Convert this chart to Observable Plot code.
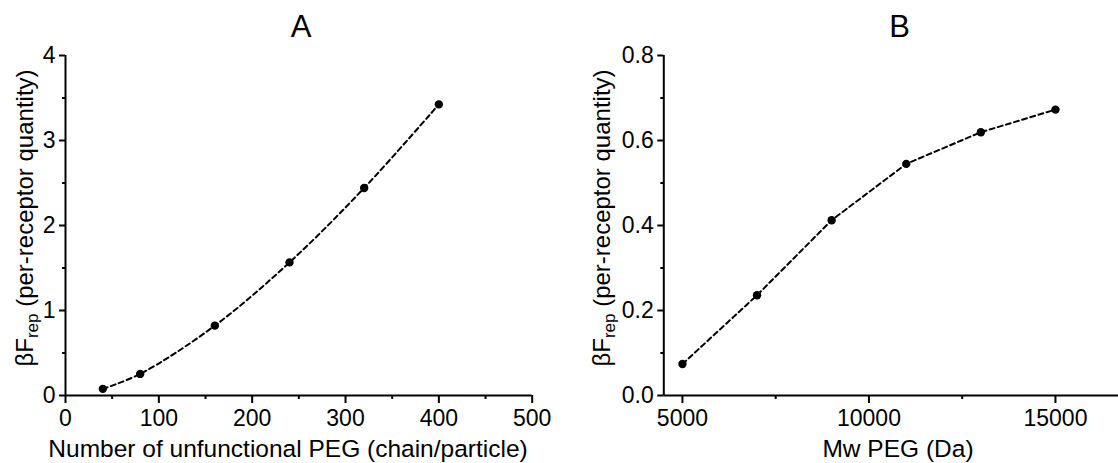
<!DOCTYPE html>
<html><head><meta charset="utf-8">
<script src="https://cdn.jsdelivr.net/npm/d3@7"></script>
<script src="https://cdn.jsdelivr.net/npm/@observablehq/plot@0.6"></script>
<style>
body{margin:0;background:#fff;}
#wrap{display:flex;width:1118px;height:463px;overflow:hidden;background:#fff;}
#wrap svg{display:block;flex:none;}
</style></head><body><div id="wrap"></div>
<script>
// Panel A
const pegCount = [40, 80, 160, 240, 320, 400];
const frepA = [0.078, 0.254, 0.822, 1.566, 2.442, 3.425];
const xTicksA = [0, 100, 200, 300, 400, 500];
const xMinorA = [50, 150, 250, 350, 450];
const yTicksA = [0, 1, 2, 3, 4];
const yMinorA = [0.5, 1.5, 2.5, 3.5];
// Panel B
const mwPEG = [5000, 7000, 9000, 11000, 13000, 15000];
const frepB = [0.074, 0.236, 0.4125, 0.545, 0.6195, 0.6727];
const xTicksB = [5000, 10000, 15000];
const xMinorB = [7500, 12500];
const yTicksB = [0, 0.2, 0.4, 0.6, 0.8];
const yMinorB = [0.1, 0.3, 0.5, 0.7];

const titles = ["A", "B"];
const xLabels = ["Number of unfunctional PEG (chain/particle)", "Mw PEG (Da)"];

const FONT = '"Liberation Sans", Arial, Helvetica, sans-serif';

function panel(o) {
  const data = o.xs.map((x, i) => ({x, y: o.ys[i]}));
  const svg = Plot.plot({
    width: o.width, height: 463,
    marginTop: 55, marginBottom: 68, marginLeft: o.marginLeft, marginRight: o.marginRight,
    style: {fontFamily: FONT, fontSize: "23px", color: "#000", background: "#fff", overflow: "visible"},
    x: {domain: o.xDomain},
    y: {domain: o.yDomain},
    marks: [
      Plot.axisX({ticks: o.xTicks, tickSize: 8, tickPadding: 6, tickFormat: d => String(d), label: null, strokeWidth: 2, fontSize: 23}),
      Plot.axisX({ticks: o.xMinor, tickSize: 4, tickFormat: () => "", label: null, strokeWidth: 2}),
      Plot.axisY({ticks: o.yTicks, tickSize: 6, tickPadding: 4, tickFormat: o.yFormat, label: null, strokeWidth: 2, fontSize: 23}),
      Plot.axisY({ticks: o.yMinor, tickSize: 3, tickFormat: () => "", label: null, strokeWidth: 2}),
      Plot.ruleY([o.yDomain[0]], {stroke: "#000", strokeWidth: 2}),
      Plot.ruleX([o.xDomain[0]], {stroke: "#000", strokeWidth: 2}),
      Plot.line(data, {x: "x", y: "y", curve: o.curve, stroke: "#000", strokeWidth: 2, strokeDasharray: "5,3.5"}),
      Plot.dot(data, {x: "x", y: "y", r: 4.2, fill: "#000", stroke: "none"})
    ]
  });
  const s = d3.select(svg);
  s.append("text").attr("x", o.titleX).attr("y", 37).attr("text-anchor", "middle")
    .attr("font-size", 31).attr("font-family", FONT).attr("fill", "#000").text(o.title);
  s.append("text").attr("x", o.xLabelX).attr("y", 457).attr("text-anchor", "middle")
    .attr("font-size", 24.5).attr("font-family", FONT).attr("fill", "#000").text(o.xLabel);
  const yl = s.append("text").attr("transform", `translate(${o.yLabelX},218) rotate(-90)`)
    .attr("text-anchor", "middle").attr("font-size", 24).attr("font-family", FONT).attr("fill", "#000");
  yl.append("tspan").text("βF");
  yl.append("tspan").attr("font-size", 17).attr("dy", 5).text("rep");
  yl.append("tspan").attr("dy", -5).text(" (per-receptor quantity)");
  return svg;
}

const wrap = document.getElementById("wrap");
wrap.appendChild(panel({
  width: 559, marginLeft: 65, marginRight: 27.3,
  xDomain: [0, 500], yDomain: [0, 4],
  xs: pegCount, ys: frepA,
  xTicks: xTicksA, xMinor: xMinorA, yTicks: yTicksA, yMinor: yMinorA,
  yFormat: d => String(d), curve: "catmull-rom",
  title: titles[0], titleX: 301, xLabelX: 288, xLabel: xLabels[0], yLabelX: 33
}));
wrap.appendChild(panel({
  width: 559, marginLeft: 104.3, marginRight: 0,
  xDomain: [4500, 16690], yDomain: [0, 0.8],
  xs: mwPEG, ys: frepB,
  xTicks: xTicksB, xMinor: xMinorB, yTicks: yTicksB, yMinor: yMinorB,
  yFormat: d3.format(".1f"), curve: "linear",
  title: titles[1], titleX: 340.5, xLabelX: 339, xLabel: xLabels[1], yLabelX: 51
}));
</script>
</body></html>
